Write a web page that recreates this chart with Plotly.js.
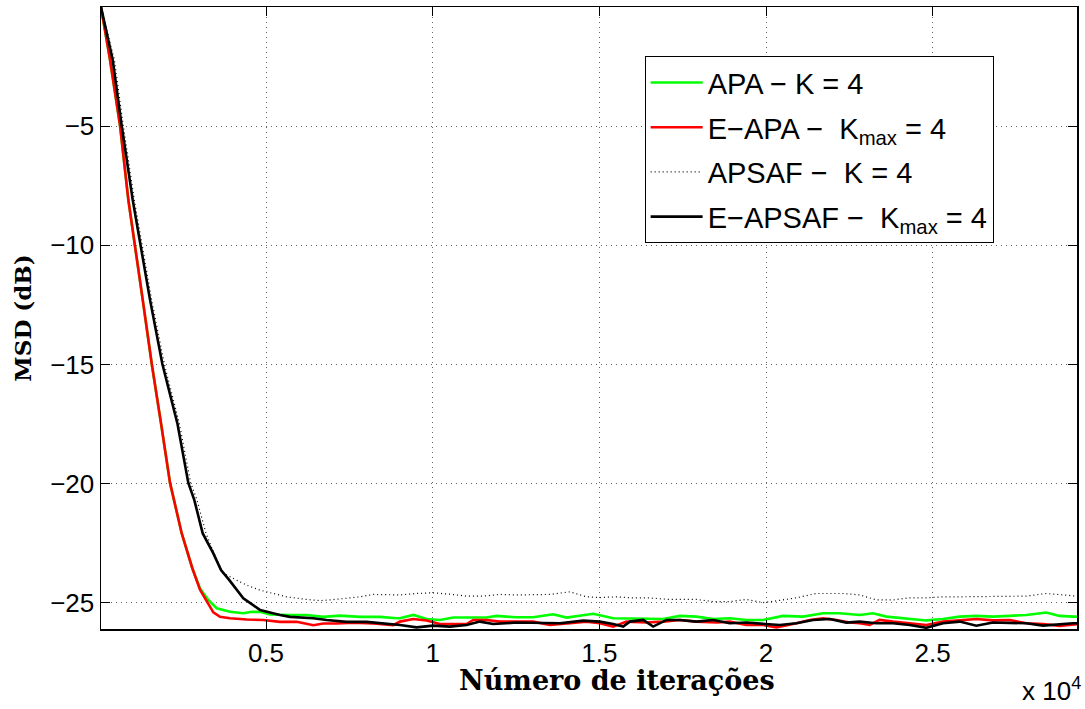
<!DOCTYPE html>
<html>
<head>
<meta charset="utf-8">
<script src="https://cdn.plot.ly/plotly-3.0.1.min.js"></script>
<style>html,body{margin:0;padding:0;background:#fff;}</style>
</head>
<body>
<div id="chart" style="width:1085px;height:709px;"></div>
<script>
// ---- Data ----
const seriesNames = ["APA − K = 4", "E−APA −  K<sub>max</sub> = 4", "APSAF −  K = 4", "E−APSAF −  K<sub>max</sub> = 4"];

const apaIter = [50, 322, 622, 871, 1303, 1573, 1851, 2121, 2472, 2640, 2790, 3020, 3270, 3520, 3920, 4320, 4570, 4820, 5120, 5720, 6220, 6720, 7220, 7820, 8420, 8920,
  9018, 9420, 9820, 10217, 10617, 11017, 11617, 11917, 12516, 13015, 13615, 14017, 14816, 15415, 15815,
  16415, 16914, 17414, 17914, 18413, 18913, 19413, 19912, 20512, 21112, 21711, 22211, 22811,
  23210, 23610, 24310, 24810, 25310, 25810, 26310, 26809, 27309, 27809, 28409, 28808, 29208, 29330];
const apaMSD = [0, -2.22, -4.99, -8.10, -12.30, -14.98, -17.47, -19.97, -22.09, -22.91, -23.55, -24.4, -24.88, -25.23, -25.38, -25.44, -25.38, -25.38, -25.49, -25.51, -25.51, -25.59, -25.54, -25.59, -25.59, -25.65,
  -25.65, -25.51, -25.68, -25.72, -25.62, -25.62, -25.62, -25.55, -25.61, -25.61, -25.48, -25.62, -25.46, -25.65, -25.65,
  -25.68, -25.68, -25.55, -25.58, -25.68, -25.65, -25.72, -25.72, -25.55, -25.58, -25.44, -25.44, -25.51,
  -25.44, -25.58, -25.68, -25.74, -25.68, -25.58, -25.55, -25.58, -25.55, -25.51, -25.41, -25.55, -25.58, -25.58];

const eapaIter = [50, 322, 622, 871, 1303, 1573, 1851, 2121, 2472, 2640, 2790, 3020, 3222, 3420, 3620, 3920, 4420, 4920, 5420, 5920, 6420, 6720, 7120, 7620, 8220, 8820,
  9018, 9420, 9820, 10217, 10617, 11017, 11217, 11617, 12016, 12516, 13015, 13515, 14017, 14616, 15015, 15415, 15815,
  16415, 16914, 17414, 17914, 18513, 18913, 19413, 19912, 20312, 20912, 21312, 21711, 22111, 22511, 22811,
  23111, 23410, 23810, 24310, 24810, 25310, 25810, 26310, 26809, 27309, 27809, 28309, 28808, 29208, 29330];
const eapaMSD = [0, -2.22, -4.99, -8.10, -12.30, -14.98, -17.47, -19.97, -22.09, -22.91, -23.55, -24.45, -24.93, -25.40, -25.59, -25.65, -25.70, -25.72, -25.80, -25.80, -25.94, -25.87, -25.87, -25.84, -25.87, -25.94,
  -25.79, -25.68, -25.74, -25.89, -25.89, -25.89, -25.72, -25.72, -25.79, -25.79, -25.79, -25.93, -25.86, -25.79, -25.86, -26.00, -25.79,
  -25.83, -25.79, -25.72, -25.79, -25.83, -25.79, -25.93, -25.93, -26.03, -25.86, -25.72, -25.65, -25.72, -25.83, -25.86,
  -25.93, -25.72, -25.79, -25.86, -25.93, -25.79, -25.72, -25.68, -25.74, -25.72, -25.86, -25.89, -25.97, -25.93, -25.90];

const apsafIter = [50, 452, 720, 1050, 1570, 1950, 2400, 2740, 2930, 3200, 3520, 3720, 4020, 4420, 4820, 5220, 5620, 6220, 6620, 6920, 7420, 7820, 8220, 8620, 9020,
  9518, 10017, 10517, 11017, 11517, 12016, 12516, 13015, 13515, 14115, 14616, 15015, 15515,
  15915, 16414, 17114, 17914, 18413, 18913, 19413, 19912, 20312, 20912, 21512, 21911, 22311, 22811,
  23310, 23810, 24310, 24810, 25310, 25810, 26310, 26809, 27309, 27809, 28409, 28808, 29208, 29330];
const apsafMSD = [0, -2.22, -4.99, -8.10, -12.30, -14.98, -17.47, -19.97, -20.69, -22.09, -23.19, -23.76, -23.98, -24.26, -24.47, -24.61, -24.75, -24.86, -24.91, -24.88, -24.81, -24.75, -24.65, -24.67, -24.67,
  -24.61, -24.58, -24.64, -24.72, -24.72, -24.65, -24.67, -24.65, -24.65, -24.54, -24.75, -24.78, -24.75,
  -24.79, -24.79, -24.86, -24.86, -24.95, -24.95, -24.86, -24.99, -24.92, -24.79, -24.61, -24.61, -24.61, -24.67,
  -24.88, -24.88, -24.79, -24.79, -24.75, -24.75, -24.75, -24.75, -24.75, -24.72, -24.61, -24.67, -24.72, -24.72];

const eapsafIter = [50, 402, 672, 1002, 1522, 1891, 2341, 2670, 2850, 3102, 3420, 3650, 3900, 4320, 4820, 5020, 5420, 5720, 6420, 6820, 7420, 8020, 8620,
  9018, 9518, 10017, 10517, 11017, 11417, 11816, 12516, 13215, 13815, 14516, 15015, 15415, 15715,
  15915, 16315, 16614, 17014, 17414, 17914, 18413, 18913, 19413, 19912, 20412, 20912, 21412, 21911, 22411, 22811,
  23310, 23810, 24310, 24810, 25310, 25810, 26310, 26809, 27309, 27809, 28309, 28808, 29208, 29330];
const eapsafMSD = [0, -2.22, -4.99, -8.10, -12.30, -14.98, -17.47, -19.97, -20.69, -22.09, -22.93, -23.63, -24.05, -24.81, -25.30, -25.38, -25.51, -25.59, -25.65, -25.72, -25.80, -25.80, -25.87,
  -25.93, -26.03, -25.96, -26.00, -25.93, -25.79, -25.89, -25.83, -25.86, -25.86, -25.75, -25.79, -25.89, -26.00,
  -25.79, -25.72, -26.00, -25.72, -25.72, -25.79, -25.72, -25.86, -25.83, -25.89, -25.93, -25.86, -25.72, -25.68, -25.83, -25.79,
  -25.86, -25.86, -25.93, -26.05, -25.86, -25.79, -25.96, -25.83, -25.86, -25.86, -25.96, -25.89, -25.86, -25.86];

const xTickVals = [5000, 10000, 15000, 20000, 25000];
const xTickText = ["0.5", "1", "1.5", "2", "2.5"];
const yTickVals = [-25, -20, -15, -10, -5];
const yTickText = ["−25", "−20", "−15", "−10", "−5"];
const xTitle = "Número de iterações";
const yTitle = "MSD (dB)";
const xExponent = "x 10<sup>4</sup>";

// ---- Traces ----
const traces = [
  {x: apaIter, y: apaMSD, name: seriesNames[0], legendgroup: "g1", mode: "lines", line: {color: "#00ff00", width: 2.6}},
  {x: eapaIter, y: eapaMSD, name: seriesNames[1], legendgroup: "g2", mode: "lines", line: {color: "#ff0000", width: 2.6}},
  {x: apsafIter, y: apsafMSD, name: seriesNames[2], legendgroup: "g3", mode: "lines", line: {color: "#000000", width: 1.2, dash: "1px,3px"}},
  {x: eapsafIter, y: eapsafMSD, name: seriesNames[3], legendgroup: "g4", mode: "lines", line: {color: "#000000", width: 2.6}}
];

const tickFont = {family: "Liberation Sans, Arial, sans-serif", size: 26, color: "#000"};
const axisCommon = {
  showline: true, mirror: "ticks", linecolor: "#000", linewidth: 1.5,
  ticks: "inside", ticklen: 9, tickcolor: "#000", tickwidth: 1,
  showgrid: true, gridcolor: "rgba(0,0,0,0.6)", griddash: "1px,4px", gridwidth: 1,
  zeroline: false, tickfont: tickFont
};

const layout = {
  width: 1085, height: 709,
  margin: {l: 101, r: 8, t: 7, b: 80},
  paper_bgcolor: "#fff", plot_bgcolor: "#fff",
  showlegend: true,
  xaxis: Object.assign({}, axisCommon, {
    range: [50, 29330], tickmode: "array", tickvals: xTickVals, ticktext: xTickText
  }),
  yaxis: Object.assign({}, axisCommon, {
    range: [-26.1, 0], tickmode: "array", tickvals: yTickVals, ticktext: yTickText,
    title: {text: yTitle, font: {family: "DejaVu Serif, serif", size: 23, color: "#000", weight: "bold"}, standoff: 12}
  }),
  legend: {
    x: 0.557, y: 0.921, xanchor: "left", yanchor: "top",
    bgcolor: "#fff", bordercolor: "#000", borderwidth: 1,
    font: {family: "Liberation Sans, Arial, sans-serif", size: 29, color: "#000"},
    itemwidth: 52, tracegroupgap: 4, traceorder: "grouped"
  },
  annotations: [
    {xref: "paper", yref: "paper", x: 0.529, y: -0.082, xanchor: "center", yanchor: "middle",
     text: xTitle, showarrow: false,
     font: {family: "DejaVu Serif, serif", size: 27, color: "#000", weight: "bold"}},
    {xref: "paper", yref: "paper", x: 1.006, y: -0.068, xanchor: "right", yanchor: "top",
     text: xExponent, showarrow: false,
     font: {family: "Liberation Sans, Arial, sans-serif", size: 26, color: "#000"}}
  ]
};

Plotly.newPlot("chart", traces, layout, {displayModeBar: false, staticPlot: true});
</script>
</body>
</html>
